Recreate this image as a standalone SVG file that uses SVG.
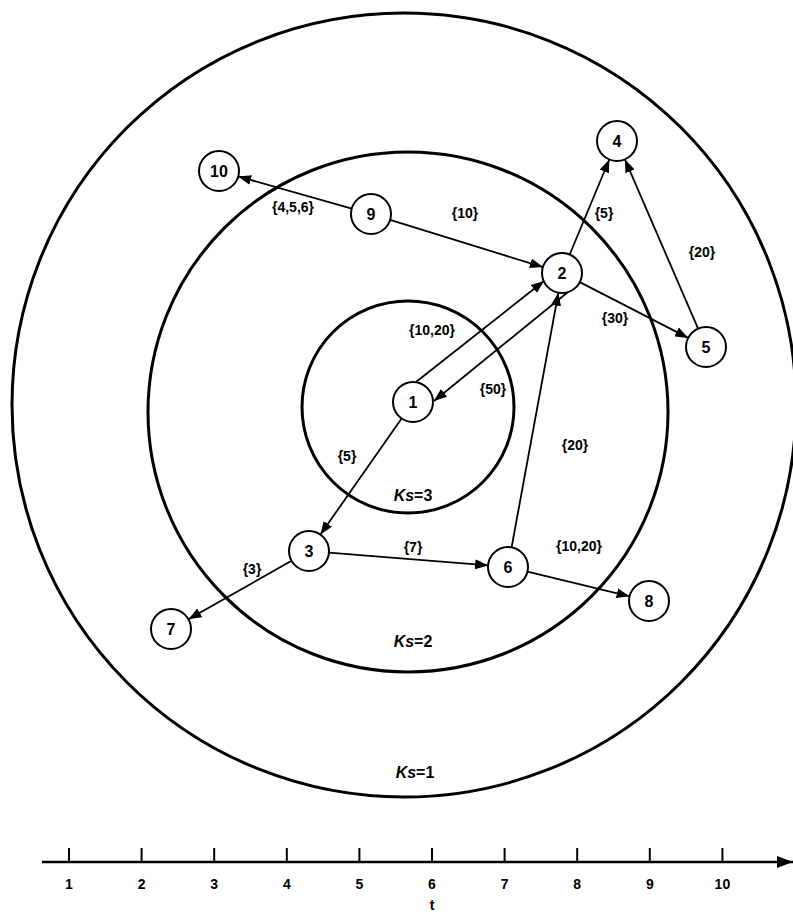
<svg xmlns="http://www.w3.org/2000/svg" width="793" height="914" viewBox="0 0 793 914">
<defs>
<marker id="arr" markerUnits="userSpaceOnUse" markerWidth="13" markerHeight="10" refX="13" refY="5" orient="auto">
<path d="M0,0 L13,5 L0,10 z" fill="#000"/>
</marker>
<marker id="axarr" markerUnits="userSpaceOnUse" markerWidth="16" markerHeight="12" refX="16" refY="6" orient="auto">
<path d="M0,0 L16,6 L0,12 z" fill="#000"/>
</marker>
</defs>
<style>
.ring{fill:none;stroke:#000;stroke-width:3}
.node circle{fill:#fff;stroke:#000;stroke-width:2}
.node text{font-family:"Liberation Sans",Arial,sans-serif;font-weight:bold;font-size:16px;text-anchor:middle}
.edge{stroke:#000;stroke-width:1.8;fill:none;marker-end:url(#arr)}
.lbl{font-family:"Liberation Sans",Arial,sans-serif;font-weight:bold;font-size:14px;text-anchor:middle}
.ks{font-family:"Liberation Sans",Arial,sans-serif;font-weight:bold;font-size:16px;text-anchor:middle}
.ax{font-family:"Liberation Sans",Arial,sans-serif;font-weight:bold;font-size:14px;text-anchor:middle}
</style>
<rect width="793" height="914" fill="#fff"/>
<g id="rings">
<circle class="ring" cx="404" cy="405" r="392"/>
<circle class="ring" cx="408" cy="412" r="260"/>
<circle class="ring" cx="408" cy="407" r="106"/>
<text class="ks" x="413" y="501"><tspan font-style="italic">Ks</tspan>=3</text>
<text class="ks" x="413" y="647"><tspan font-style="italic">Ks</tspan>=2</text>
<text class="ks" x="415" y="778"><tspan font-style="italic">Ks</tspan>=1</text>
</g>
<g id="connectors">
<line class="edge" x1="351.8" y1="208.6" x2="238.2" y2="176.4"/>
<line class="edge" x1="390.1" y1="219.9" x2="542.9" y2="267.1"/>
<line class="edge" x1="569.7" y1="254.5" x2="609.3" y2="159.5"/>
<line class="edge" x1="698.1" y1="328.6" x2="624.9" y2="159.4"/>
<line class="edge" x1="579.8" y1="282.1" x2="688.2" y2="337.9"/>
<line class="edge" x1="416" y1="382" x2="544" y2="281"/>
<line class="edge" x1="568" y1="292" x2="434" y2="401"/>
<line class="edge" x1="401.6" y1="418.4" x2="320.4" y2="534.6"/>
<line class="edge" x1="328.9" y1="552.6" x2="488.1" y2="565.4"/>
<line class="edge" x1="291.6" y1="560.8" x2="188.4" y2="619.2"/>
<line class="edge" x1="511.6" y1="547.3" x2="558.4" y2="292.7"/>
<line class="edge" x1="527.4" y1="571.7" x2="629.6" y2="596.3"/>
</g>
<g id="edge-labels">
<text class="lbl" x="293" y="212">{4,5,6}</text>
<text class="lbl" x="465" y="218">{10}</text>
<text class="lbl" x="604" y="218">{5}</text>
<text class="lbl" x="702" y="257">{20}</text>
<text class="lbl" x="615" y="323">{30}</text>
<text class="lbl" x="432" y="335">{10,20}</text>
<text class="lbl" x="493" y="394">{50}</text>
<text class="lbl" x="347" y="461">{5}</text>
<text class="lbl" x="413" y="552">{7}</text>
<text class="lbl" x="252" y="574">{3}</text>
<text class="lbl" x="575" y="450">{20}</text>
<text class="lbl" x="579" y="551">{10,20}</text>
</g>
<g id="n1" class="node"><circle cx="413" cy="402" r="20"/><text x="413" y="408">1</text></g>
<g id="n2" class="node"><circle cx="562" cy="273" r="20"/><text x="562" y="279">2</text></g>
<g id="n3" class="node"><circle cx="309" cy="551" r="20"/><text x="309" y="557">3</text></g>
<g id="n4" class="node"><circle cx="617" cy="141" r="20"/><text x="617" y="147">4</text></g>
<g id="n5" class="node"><circle cx="706" cy="347" r="20"/><text x="706" y="353">5</text></g>
<g id="n6" class="node"><circle cx="508" cy="567" r="20"/><text x="508" y="573">6</text></g>
<g id="n7" class="node"><circle cx="171" cy="629" r="20"/><text x="171" y="635">7</text></g>
<g id="n8" class="node"><circle cx="649" cy="601" r="20"/><text x="649" y="607">8</text></g>
<g id="n9" class="node"><circle cx="371" cy="214" r="20"/><text x="371" y="220">9</text></g>
<g id="n10" class="node"><circle cx="219" cy="171" r="20"/><text x="219" y="177">10</text></g>
<g id="axis">
<line x1="42" y1="862" x2="793" y2="862" stroke="#000" stroke-width="2.5" marker-end="url(#axarr)"/>
<g stroke="#000" stroke-width="2">
<line x1="69" y1="848" x2="69" y2="862"/>
<line x1="141.6" y1="848" x2="141.6" y2="862"/>
<line x1="214.2" y1="848" x2="214.2" y2="862"/>
<line x1="286.8" y1="848" x2="286.8" y2="862"/>
<line x1="359.4" y1="848" x2="359.4" y2="862"/>
<line x1="432" y1="848" x2="432" y2="862"/>
<line x1="504.6" y1="848" x2="504.6" y2="862"/>
<line x1="577.2" y1="848" x2="577.2" y2="862"/>
<line x1="649.8" y1="848" x2="649.8" y2="862"/>
<line x1="722.4" y1="848" x2="722.4" y2="862"/>
</g>
<text class="ax" x="69" y="889">1</text>
<text class="ax" x="141.6" y="889">2</text>
<text class="ax" x="214.2" y="889">3</text>
<text class="ax" x="286.8" y="889">4</text>
<text class="ax" x="359.4" y="889">5</text>
<text class="ax" x="432" y="889">6</text>
<text class="ax" x="504.6" y="889">7</text>
<text class="ax" x="577.2" y="889">8</text>
<text class="ax" x="649.8" y="889">9</text>
<text class="ax" x="722.4" y="889">10</text>
<text class="ax" x="432" y="910" font-size="15">t</text>
</g>
</svg>
